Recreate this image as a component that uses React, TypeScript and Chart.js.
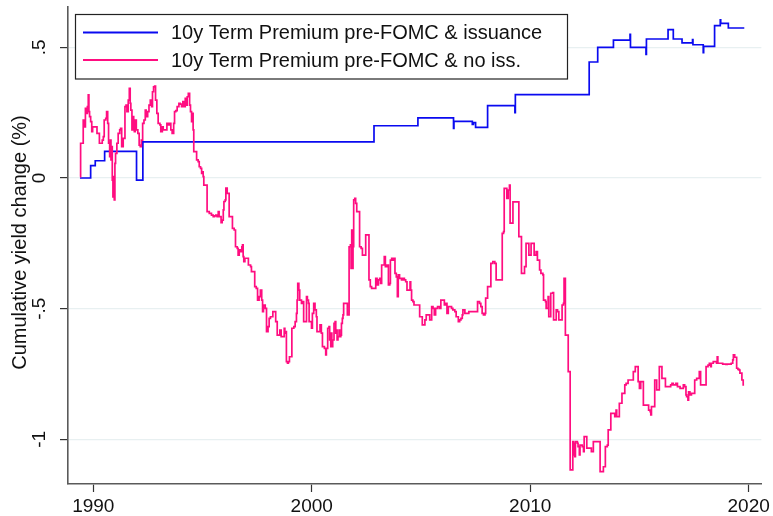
import React, { useEffect, useRef } from 'react';
import { Chart, registerables } from 'chart.js';

Chart.register(...registerables);

// ---- Data (decimal year, cumulative yield change in %) ----
const SERIES_LABELS = [
  '10y Term Premium pre-FOMC & issuance',
  '10y Term Premium pre-FOMC & no iss.',
];

const BLUE_YEARS = [
  1989.39, 1989.88, 1990.09, 1990.52, 1991.98, 1992.27, 2002.85, 2004.86,
  2006.49, 2006.51, 2007.35, 2007.40, 2007.50, 2008.05, 2009.30, 2009.32,
  2012.70, 2013.09, 2013.81, 2014.57, 2014.59, 2015.30, 2015.32, 2016.31,
  2016.55, 2016.95, 2017.43, 2017.45, 2017.92, 2017.94, 2018.44, 2018.70,
  2018.72, 2018.74, 2019.07, 2019.80,
];
const BLUE_VALUES = [
  0.0, 0.047, 0.066, 0.102, -0.008, 0.138, 0.2, 0.23,
  0.19, 0.217, 0.205, 0.212, 0.194, 0.277, 0.25, 0.319,
  0.444, 0.5, 0.528, 0.55, 0.5, 0.473, 0.532, 0.568,
  0.532, 0.517, 0.53, 0.51, 0.48, 0.504, 0.583, 0.605,
  0.592, 0.592, 0.574, 0.574,
];

const PINK_1989_1994: [number, number][] = [
  [1989.39, 0.005], [1989.42, 0.133], [1989.5, 0.133], [1989.54, 0.222], [1989.59, 0.196],
  [1989.64, 0.267], [1989.68, 0.247], [1989.73, 0.273], [1989.77, 0.318], [1989.8, 0.254],
  [1989.83, 0.235], [1989.88, 0.216], [1989.93, 0.177], [1989.97, 0.196], [1990.08, 0.196],
  [1990.17, 0.171], [1990.23, 0.171], [1990.28, 0.133], [1990.35, 0.133], [1990.41, 0.145],
  [1990.46, 0.158], [1990.5, 0.222], [1990.57, 0.228], [1990.61, 0.254], [1990.66, 0.209],
  [1990.7, 0.133], [1990.75, 0.082], [1990.78, 0.145], [1990.81, 0.069], [1990.84, 0.12],
  [1990.87, -0.008], [1990.9, -0.072], [1990.93, 0.005], [1990.96, -0.084], [1990.99, 0.056],
  [1991.02, 0.094], [1991.08, 0.133], [1991.14, 0.171], [1991.21, 0.184], [1991.25, 0.19],
  [1991.3, 0.12], [1991.37, 0.152], [1991.45, 0.273], [1991.5, 0.279], [1991.54, 0.254],
  [1991.6, 0.298], [1991.65, 0.343], [1991.69, 0.286], [1991.72, 0.26], [1991.77, 0.184],
  [1991.81, 0.235], [1991.85, 0.209], [1991.88, 0.177], [1991.92, 0.222], [1991.97, 0.184],
  [1992.04, 0.171], [1992.1, 0.126], [1992.15, 0.12], [1992.2, 0.145], [1992.26, 0.209],
  [1992.32, 0.222], [1992.38, 0.26], [1992.42, 0.235], [1992.49, 0.254], [1992.55, 0.279],
  [1992.61, 0.298], [1992.67, 0.273], [1992.71, 0.33], [1992.76, 0.349], [1992.81, 0.352],
  [1992.85, 0.298], [1992.91, 0.247], [1992.97, 0.209], [1993.05, 0.203], [1993.09, 0.177],
  [1993.16, 0.196], [1993.2, 0.184], [1993.37, 0.209], [1993.43, 0.203], [1993.49, 0.209],
  [1993.55, 0.184], [1993.61, 0.171], [1993.68, 0.209], [1993.72, 0.254], [1993.78, 0.258],
  [1993.84, 0.273], [1993.92, 0.286], [1993.98, 0.283], [1994.04, 0.273], [1994.1, 0.292],
  [1994.16, 0.273], [1994.21, 0.305], [1994.25, 0.279], [1994.3, 0.311], [1994.35, 0.324],
  [1994.41, 0.279], [1994.45, 0.254], [1994.5, 0.216], [1994.54, 0.247],
];

const PINK_1994_2001: [number, number][] = [
  [1994.57, 0.184], [1994.6, 0.101], [1994.7, 0.101], [1994.73, 0.069], [1994.8, 0.063],
  [1994.85, 0.043], [1994.91, 0.037], [1994.96, 0.018], [1995.0, 0.024], [1995.03, 0.005],
  [1995.06, -0.027], [1995.18, -0.027], [1995.21, -0.129], [1995.31, -0.135], [1995.41, -0.142],
  [1995.49, -0.148], [1995.55, -0.145], [1995.61, -0.142], [1995.67, -0.148], [1995.72, -0.129],
  [1995.76, -0.148], [1995.85, -0.171], [1995.9, -0.161], [1995.95, -0.122], [1995.98, -0.09],
  [1996.04, -0.084], [1996.07, -0.039], [1996.13, -0.059], [1996.22, -0.148], [1996.31, -0.148],
  [1996.37, -0.193], [1996.45, -0.199], [1996.51, -0.263], [1996.59, -0.269], [1996.63, -0.295],
  [1996.68, -0.275], [1996.74, -0.282], [1996.8, -0.263], [1996.83, -0.256], [1996.86, -0.301],
  [1996.89, -0.32], [1996.94, -0.307], [1997.1, -0.333], [1997.2, -0.339], [1997.24, -0.358],
  [1997.39, -0.416], [1997.46, -0.422], [1997.52, -0.467], [1997.59, -0.454], [1997.65, -0.429],
  [1997.71, -0.467], [1997.75, -0.511], [1997.79, -0.486], [1997.87, -0.499], [1997.93, -0.588],
  [1998.0, -0.569], [1998.05, -0.537], [1998.11, -0.531], [1998.22, -0.511], [1998.31, -0.511],
  [1998.35, -0.55], [1998.42, -0.601], [1998.54, -0.582], [1998.6, -0.607], [1998.74, -0.575],
  [1998.77, -0.594], [1998.81, -0.588], [1998.84, -0.703], [1998.89, -0.709], [1998.93, -0.703],
  [1998.98, -0.684], [1999.09, -0.575], [1999.18, -0.569], [1999.24, -0.55], [1999.3, -0.518],
  [1999.33, -0.467], [1999.36, -0.403], [1999.41, -0.429], [1999.45, -0.467], [1999.53, -0.48],
  [1999.57, -0.473], [1999.63, -0.55], [1999.76, -0.454], [1999.8, -0.467], [1999.85, -0.48],
  [1999.88, -0.55], [1999.99, -0.575], [2000.03, -0.518], [2000.09, -0.48], [2000.15, -0.505],
  [2000.21, -0.531], [2000.24, -0.588], [2000.38, -0.562], [2000.44, -0.594], [2000.49, -0.645],
  [2000.58, -0.652], [2000.64, -0.677], [2000.67, -0.652], [2000.73, -0.575], [2000.79, -0.569],
  [2000.82, -0.62], [2000.87, -0.645], [2000.89, -0.594], [2000.92, -0.645], [2000.96, -0.62],
  [2001.02, -0.556], [2001.07, -0.55], [2001.1, -0.594], [2001.13, -0.582], [2001.16, -0.62],
  [2001.2, -0.607], [2001.25, -0.582], [2001.28, -0.607], [2001.33, -0.601], [2001.36, -0.556],
  [2001.4, -0.537], [2001.43, -0.524], [2001.46, -0.48], [2001.59, -0.48], [2001.63, -0.524],
];

const PINK_2001_2010: [number, number][] = [
  [2001.71, -0.263], [2001.77, -0.256], [2001.8, -0.346], [2001.83, -0.199], [2001.86, -0.346],
  [2001.89, -0.263], [2001.92, -0.084], [2001.97, -0.078], [2002.01, -0.097], [2002.06, -0.129],
  [2002.19, -0.263], [2002.26, -0.269], [2002.32, -0.295], [2002.47, -0.218], [2002.62, -0.39],
  [2002.68, -0.416], [2002.74, -0.422], [2002.93, -0.384], [2002.99, -0.409], [2003.05, -0.39],
  [2003.11, -0.384], [2003.15, -0.403], [2003.2, -0.333], [2003.32, -0.301], [2003.37, -0.339],
  [2003.44, -0.333], [2003.51, -0.409], [2003.57, -0.403], [2003.6, -0.314], [2003.66, -0.307],
  [2003.72, -0.314], [2003.76, -0.307], [2003.81, -0.365], [2003.87, -0.378], [2003.92, -0.454],
  [2003.96, -0.371], [2004.02, -0.384], [2004.11, -0.39], [2004.18, -0.384], [2004.24, -0.39],
  [2004.3, -0.397], [2004.36, -0.429], [2004.5, -0.397], [2004.53, -0.429], [2004.57, -0.467],
  [2004.63, -0.473], [2004.68, -0.486], [2004.94, -0.531], [2005.06, -0.562], [2005.18, -0.543],
  [2005.24, -0.524], [2005.4, -0.543], [2005.49, -0.492], [2005.55, -0.499], [2005.61, -0.524],
  [2005.67, -0.499], [2005.76, -0.492], [2005.85, -0.499], [2005.91, -0.467], [2006.07, -0.486],
  [2006.13, -0.48], [2006.19, -0.518], [2006.25, -0.492], [2006.4, -0.499], [2006.46, -0.505],
  [2006.55, -0.511], [2006.61, -0.531], [2006.71, -0.55], [2006.77, -0.543], [2006.83, -0.537],
  [2006.89, -0.524], [2006.92, -0.505], [2007.01, -0.518], [2007.19, -0.511], [2007.59, -0.473],
  [2007.68, -0.48], [2007.74, -0.492], [2007.8, -0.518], [2007.86, -0.524], [2007.93, -0.518],
  [2007.96, -0.46], [2008.05, -0.416], [2008.2, -0.327], [2008.29, -0.32], [2008.38, -0.327],
  [2008.44, -0.39], [2008.72, -0.212], [2008.78, -0.205], [2008.81, -0.04], [2008.93, -0.078],
  [2008.99, -0.046], [2009.05, -0.027], [2009.08, -0.173], [2009.21, -0.091], [2009.48, -0.224],
  [2009.6, -0.365], [2009.74, -0.339], [2009.81, -0.25], [2009.94, -0.295], [2010.04, -0.25],
  [2010.18, -0.295], [2010.27, -0.282], [2010.33, -0.314],
];

const PINK_2010_2020: [number, number][] = [
  [2010.43, -0.352], [2010.49, -0.365], [2010.58, -0.371], [2010.61, -0.467], [2010.7, -0.473],
  [2010.73, -0.499], [2010.82, -0.454], [2010.85, -0.531], [2010.94, -0.441], [2011.03, -0.439],
  [2011.07, -0.543], [2011.19, -0.505], [2011.25, -0.511], [2011.31, -0.543], [2011.46, -0.486],
  [2011.52, -0.48], [2011.55, -0.384], [2011.61, -0.601], [2011.74, -0.741], [2011.83, -1.117],
  [2011.95, -1.009], [2011.98, -1.06], [2012.01, -1.015], [2012.04, -1.066], [2012.07, -1.009],
  [2012.16, -1.015], [2012.19, -1.028], [2012.25, -1.06], [2012.28, -1.022], [2012.38, -1.028],
  [2012.44, -1.047], [2012.47, -0.99], [2012.59, -1.034], [2012.8, -1.047], [2012.89, -1.009],
  [2013.2, -1.124], [2013.35, -1.105], [2013.44, -1.028], [2013.53, -1.022], [2013.57, -0.964],
  [2013.69, -0.901], [2013.87, -0.913], [2013.93, -0.888], [2013.96, -0.913], [2014.08, -0.862],
  [2014.2, -0.824], [2014.33, -0.792], [2014.39, -0.786], [2014.48, -0.773], [2014.72, -0.741],
  [2014.81, -0.722], [2014.94, -0.779], [2015.0, -0.805], [2015.06, -0.779], [2015.18, -0.869],
  [2015.42, -0.888], [2015.49, -0.894], [2015.52, -0.907], [2015.55, -0.875], [2015.7, -0.773],
  [2015.79, -0.811], [2015.91, -0.722], [2016.03, -0.767], [2016.19, -0.798], [2016.43, -0.792],
  [2016.49, -0.786], [2016.55, -0.792], [2016.67, -0.786], [2016.74, -0.798], [2016.86, -0.805],
  [2017.01, -0.792], [2017.07, -0.798], [2017.13, -0.83], [2017.16, -0.837], [2017.22, -0.85],
  [2017.25, -0.818], [2017.31, -0.83], [2017.38, -0.824], [2017.53, -0.773], [2017.62, -0.767],
  [2017.74, -0.741], [2017.8, -0.792], [2018.05, -0.722], [2018.14, -0.716], [2018.2, -0.709],
  [2018.26, -0.722], [2018.29, -0.709], [2018.38, -0.703], [2018.53, -0.709], [2018.56, -0.684],
  [2018.59, -0.709], [2018.81, -0.712], [2018.96, -0.713], [2019.02, -0.712], [2019.2, -0.709],
  [2019.27, -0.696], [2019.3, -0.677], [2019.36, -0.686], [2019.45, -0.728], [2019.51, -0.732],
  [2019.57, -0.735], [2019.6, -0.747], [2019.69, -0.773], [2019.75, -0.792], [2019.79, -0.792],
];

const X_TICKS = [1990, 2000, 2010, 2020];
const X_TICK_LABELS = ['1990', '2000', '2010', '2020'];
const Y_TICKS = [-1, -0.5, 0, 0.5];
const Y_TICK_LABELS = ['-1', '-.5', '0', '.5'];
const Y_TITLE = 'Cumulative yield change (%)';

const X_MIN = 1988.843;
const X_MAX = 2020.58;
const Y_MIN = -1.171;
const Y_MAX = 0.6544;

const FONT = '"Liberation Sans", Arial, Helvetica, sans-serif';
const BLUE = '#0a0af0';
const PINK = '#ff0d80';
const AXIS = '#5a5a5a';

const decorPlugin = {
  id: 'stataDecor',
  afterDraw(chart: any) {
    const ctx = chart.ctx as CanvasRenderingContext2D;
    const yScale = chart.scales.y;
    const area = chart.chartArea;
    ctx.save();
    // y tick labels (rotated, Stata style)
    ctx.fillStyle = '#111';
    ctx.font = `19px ${FONT}`;
    ctx.textAlign = 'center';
    ctx.textBaseline = 'middle';
    Y_TICKS.forEach((v, i) => {
      const py = yScale.getPixelForValue(v);
      ctx.save();
      ctx.translate(40, py);
      ctx.rotate(-Math.PI / 2);
      ctx.fillText(Y_TICK_LABELS[i], 0, 0);
      ctx.restore();
    });
    // y title
    ctx.save();
    ctx.font = `20px ${FONT}`;
    ctx.translate(20, (area.top + area.bottom) / 2 - 3);
    ctx.rotate(-Math.PI / 2);
    ctx.fillText(Y_TITLE, 0, 0);
    ctx.restore();

    // legend box
    const lx = 75.5, ly = 14.5, lw = 492, lh = 64.5;
    ctx.fillStyle = '#ffffff';
    ctx.fillRect(lx, ly, lw, lh);
    ctx.strokeStyle = '#222';
    ctx.lineWidth = 1.2;
    ctx.strokeRect(lx, ly, lw, lh);
    const rows = [
      { color: BLUE, y: 32.5, label: SERIES_LABELS[0] },
      { color: PINK, y: 60, label: SERIES_LABELS[1] },
    ];
    ctx.font = `20px ${FONT}`;
    ctx.textAlign = 'left';
    ctx.textBaseline = 'middle';
    rows.forEach((r) => {
      ctx.strokeStyle = r.color;
      ctx.lineWidth = 1.8;
      ctx.beginPath();
      ctx.moveTo(83, r.y);
      ctx.lineTo(158, r.y);
      ctx.stroke();
      ctx.fillStyle = '#111';
      ctx.fillText(r.label, 171, r.y + 1);
    });
    ctx.restore();
  },
};

export default function App() {
  const canvasRef = useRef<HTMLCanvasElement | null>(null);

  useEffect(() => {
    document.body.style.margin = '0';
    const canvas = canvasRef.current;
    if (!canvas) return;
    const pink = [...PINK_1989_1994, ...PINK_1994_2001, ...PINK_2001_2010, ...PINK_2010_2020];
    const chart = new Chart(canvas, {
      type: 'line',
      data: {
        datasets: [
          {
            label: SERIES_LABELS[1],
            data: pink.map(([x, y]) => ({ x, y })),
            borderColor: PINK,
            borderWidth: 1.7,
            stepped: true,
            pointRadius: 0,
            fill: false,
          },
          {
            label: SERIES_LABELS[0],
            data: BLUE_YEARS.map((x, i) => ({ x, y: BLUE_VALUES[i] })),
            borderColor: BLUE,
            borderWidth: 1.7,
            stepped: true,
            pointRadius: 0,
            fill: false,
          },
        ],
      },
      options: {
        responsive: false,
        maintainAspectRatio: false,
        animation: false,
        layout: { padding: { top: 7, right: 11, left: 0, bottom: 0 } },
        plugins: {
          legend: { display: false },
          tooltip: { enabled: false },
        },
        scales: {
          x: {
            type: 'linear',
            min: X_MIN,
            max: X_MAX,
            afterBuildTicks: (s: any) => {
              s.ticks = X_TICKS.map((v) => ({ value: v }));
            },
            afterFit: (s: any) => {
              s.height = 32;
            },
            grid: {
              drawOnChartArea: false,
              drawTicks: true,
              tickLength: 8,
              tickColor: '#333',
              tickWidth: 1.2,
            },
            border: { display: true, color: AXIS, width: 1.6 },
            ticks: {
              autoSkip: false,
              maxRotation: 0,
              minRotation: 0,
              padding: 3,
              color: '#111',
              font: { family: FONT, size: 19 },
              callback: (v: any) => {
                const i = X_TICKS.indexOf(Number(v));
                return i >= 0 ? X_TICK_LABELS[i] : '';
              },
            },
          },
          y: {
            type: 'linear',
            min: Y_MIN,
            max: Y_MAX,
            afterBuildTicks: (s: any) => {
              s.ticks = Y_TICKS.map((v) => ({ value: v }));
            },
            afterFit: (s: any) => {
              s.width = 68;
            },
            grid: {
              color: '#e8f0f1',
              lineWidth: 1.2,
              drawTicks: true,
              tickLength: 8,
              tickColor: '#333',
              tickWidth: 1.2,
            },
            border: { display: true, color: AXIS, width: 1.6 },
            ticks: { display: false },
          },
        },
      },
      plugins: [decorPlugin],
    });
    return () => chart.destroy();
  }, []);

  return (
    <div style={{ width: 773, height: 516, background: '#fff' }}>
      <canvas ref={canvasRef} width={773} height={516} style={{ display: 'block' }} />
    </div>
  );
}
